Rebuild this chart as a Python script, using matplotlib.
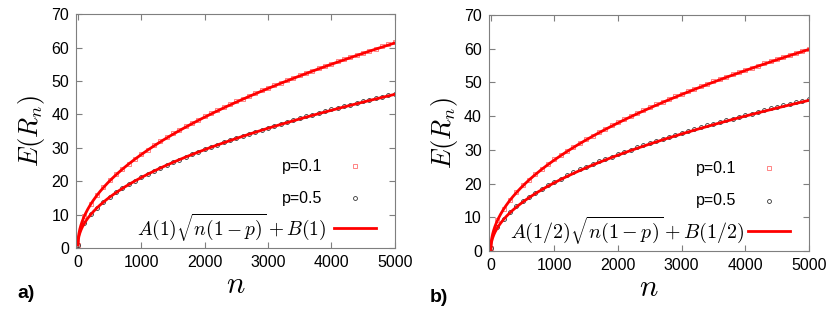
import numpy as np
import matplotlib
matplotlib.use("Agg")
import matplotlib.pyplot as plt

plt.rcParams['font.family'] = ['Liberation Sans', 'DejaVu Sans']
plt.rcParams['mathtext.fontset'] = 'cm'

# n values of the simulated points
n = np.arange(0, 5001, 100)

# panel a) values
a_p01 = [1.0, 9.7, 13.3, 16.0, 18.3, 20.3, 22.1, 23.8, 25.3, 26.8, 28.2,
         29.5, 30.8, 32.0, 33.1, 34.3, 35.4, 36.4, 37.4, 38.4, 39.4,
         40.3, 41.2, 42.1, 43.0, 43.9, 44.7, 45.6, 46.4, 47.2, 48.0,
         48.7, 49.5, 50.2, 51.0, 51.7, 52.4, 53.1, 53.8, 54.5, 55.2,
         55.9, 56.5, 57.2, 57.8, 58.5, 59.1, 59.7, 60.4, 61.0, 61.6]
a_p05 = [1.0, 7.6, 10.2, 12.1, 13.8, 15.3, 16.7, 17.9, 19.1, 20.2, 21.2,
         22.2, 23.1, 24.0, 24.9, 25.7, 26.5, 27.3, 28.1, 28.8, 29.6,
         30.3, 31.0, 31.6, 32.3, 32.9, 33.6, 34.2, 34.8, 35.4, 36.0,
         36.6, 37.2, 37.8, 38.3, 38.9, 39.4, 39.9, 40.4, 40.9, 41.5,
         42.0, 42.4, 42.9, 43.4, 43.9, 44.4, 44.8, 45.3, 45.8, 46.2]
# panel b)
b_p01 = [1.0, 9.1, 12.6, 15.2, 17.5, 19.5, 21.2, 22.9, 24.4, 25.9, 27.2,
         28.5, 29.7, 30.9, 32.1, 33.2, 34.2, 35.3, 36.3, 37.3, 38.2,
         39.1, 40.0, 40.9, 41.8, 42.6, 43.5, 44.3, 45.1, 45.9, 46.6,
         47.4, 48.1, 48.9, 49.6, 50.3, 51.0, 51.7, 52.4, 53.1, 53.7,
         54.4, 55.0, 55.7, 56.3, 57.0, 57.6, 58.2, 58.8, 59.4, 60.0]
b_p05 = [1.0, 7.1, 9.6, 11.6, 13.3, 14.8, 16.1, 17.3, 18.5, 19.6, 20.6,
         21.5, 22.5, 23.3, 24.2, 25.0, 25.8, 26.6, 27.3, 28.0, 28.8,
         29.4, 30.1, 30.8, 31.4, 32.1, 32.7, 33.3, 33.9, 34.5, 35.0,
         35.6, 36.2, 36.7, 37.3, 37.8, 38.3, 38.8, 39.3, 39.8, 40.3,
         40.8, 41.3, 41.8, 42.3, 42.7, 43.2, 43.7, 44.1, 44.6, 45.0]

# fit constants A, B
A_a, B_a = 0.90, 1.0
A_b, B_b = 0.884, 0.5

xticks = [0, 1000, 2000, 3000, 4000, 5000]
yticks = [0, 10, 20, 30, 40, 50, 60, 70]

GRAY = "#7f7f7f"
PINK = "#ff7070"
DARK = "#333333"

fig = plt.figure(figsize=(8.3, 3.21), dpi=100)
axa = fig.add_axes([0.0916, 0.227, 0.384, 0.729])
axb = fig.add_axes([0.589, 0.218, 0.3855, 0.735])


def panel(ax, d01, d05, A, B, fitlabel, tag, mathx, mathsize):
    nn = np.linspace(0, 5000, 1001)
    ax.plot(n, d01, ls="none", marker="s", ms=2.8, mfc="none", mec=PINK, mew=0.6)
    ax.plot(n, d05, ls="none", marker="o", ms=2.8, mfc="none", mec=DARK, mew=0.6)
    ax.plot(nn, A * np.sqrt(nn * (1 - 0.1)) + B, color="red", lw=2)
    ax.plot(nn, A * np.sqrt(nn * (1 - 0.5)) + B, color="red", lw=2)
    ax.set_xlim(-30, 5000)
    ax.set_ylim(0, 70)
    ax.set_xticks(xticks)
    ax.set_yticks(yticks)
    ax.tick_params(direction="in", top=True, right=True, length=4, color=GRAY,
                   labelsize=11.5, pad=5)
    for s in ax.spines.values():
        s.set_color(GRAY)
    ax.set_xlabel(r"$n$", fontsize=22, labelpad=0)
    ax.set_ylabel(r"$E(R_n)$", fontsize=19, labelpad=3)

    # legend drawn by hand: text left, symbol right
    tr = ax.transAxes
    ax.text(0.774, 0.350, "p=0.1", transform=tr, ha="right", va="center", fontsize=11.5)
    ax.plot([0.875], [0.350], transform=tr, marker="s", ms=2.8, mfc="none", mec=PINK, mew=0.6)
    ax.text(0.774, 0.214, "p=0.5", transform=tr, ha="right", va="center", fontsize=11.5)
    ax.plot([0.875], [0.214], transform=tr, marker="o", ms=2.8, mfc="none", mec=DARK, mew=0.6)
    ax.text(mathx, 0.085, fitlabel, transform=tr, ha="right", va="center", fontsize=mathsize)
    ax.plot([0.81, 0.94], [0.085, 0.085], transform=tr, color="red", lw=2)

    ax.text(-0.185, -0.195, tag, transform=tr, ha="left", va="center",
            fontsize=14, fontweight="bold")


panel(axa, a_p01, a_p05, A_a, B_a, r"$A(1)\sqrt{n(1-p)}+B(1)$", "a)", 0.785, 14)
panel(axb, b_p01, b_p05, A_b, B_b, r"$A(1/2)\sqrt{n(1-p)}+B(1/2)$", "b)", 0.80, 14.4)

fig.savefig("out.png", dpi=100)
